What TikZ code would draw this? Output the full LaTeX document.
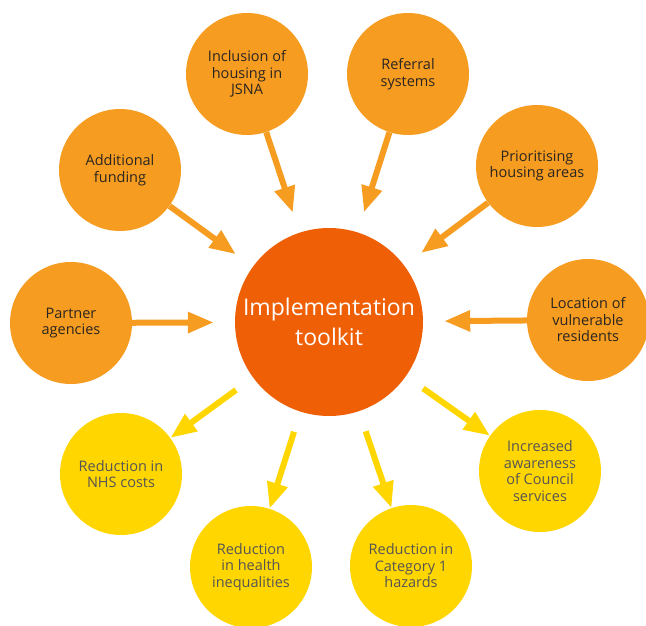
\documentclass[tikz,border=0pt]{standalone}
\usepackage{fontspec}
\setmainfont{Open Sans}
\usetikzlibrary{arrows.meta}

\definecolor{toolkitorange}{HTML}{EF5F05}
\definecolor{inputorange}{HTML}{F69C20}
\definecolor{outcomeyellow}{HTML}{FFD600}
\definecolor{inputtext}{HTML}{2A2520}
\definecolor{outcometext}{HTML}{555555}

\begin{document}
\begin{tikzpicture}[x=1pt,y=-1pt,
    hub/.style={circle,fill=toolkitorange,minimum size=188pt,inner sep=0pt,
        text=white,align=center,font=\fontsize{23}{30}\selectfont},
    input/.style={circle,fill=inputorange,minimum size=122pt,inner sep=0pt,
        text=inputtext,align=center,font=\fontsize{14.5}{16.5}\selectfont},
    outcome/.style={circle,fill=outcomeyellow,minimum size=122pt,inner sep=0pt,
        text=outcometext,align=center,font=\fontsize{14.5}{16.5}\selectfont},
    inarrow/.style={draw=inputorange,line width=6pt,
        -{Triangle[width=20pt,length=26pt]},shorten >=21pt},
    outarrow/.style={draw=outcomeyellow,line width=6pt,
        -{Triangle[width=20pt,length=26pt]},shorten <=21pt}
    ]
    \useasboundingbox (0,0) rectangle (646,626);

    % centre
    \node[hub] (toolkit) at (329,322) {Implementation\\toolkit};

    % inputs
    \node[input] (jsna) at (247,74) {Inclusion of\\housing in\\JSNA};
    \node[input] (referral) at (408,74) {Referral\\systems};
    \node[input] (funding) at (120,170) {Additional\\funding};
    \node[input] (priority) at (537,166) {Prioritising\\housing areas};
    \node[input] (partner) at (71,323) {Partner\\agencies};
    \node[input] (location) at (588,320) {Location of\\vulnerable\\residents};

    % outcomes
    \node[outcome] (nhs) at (121,474) {Reduction in\\NHS costs};
    \node[outcome] (health) at (251,567) {Reduction\\in health\\inequalities};
    \node[outcome] (hazards) at (411,566) {Reduction in\\Category 1\\hazards};
    \node[outcome] (awareness) at (540,471) {Increased\\awareness\\of Council\\services};

    \foreach \src in {jsna,referral,funding,priority,partner,location}
        \draw[inarrow] (\src) -- (toolkit);
    \foreach \dst in {nhs,health,hazards,awareness}
        \draw[outarrow] (toolkit) -- (\dst);
\end{tikzpicture}
\end{document}
